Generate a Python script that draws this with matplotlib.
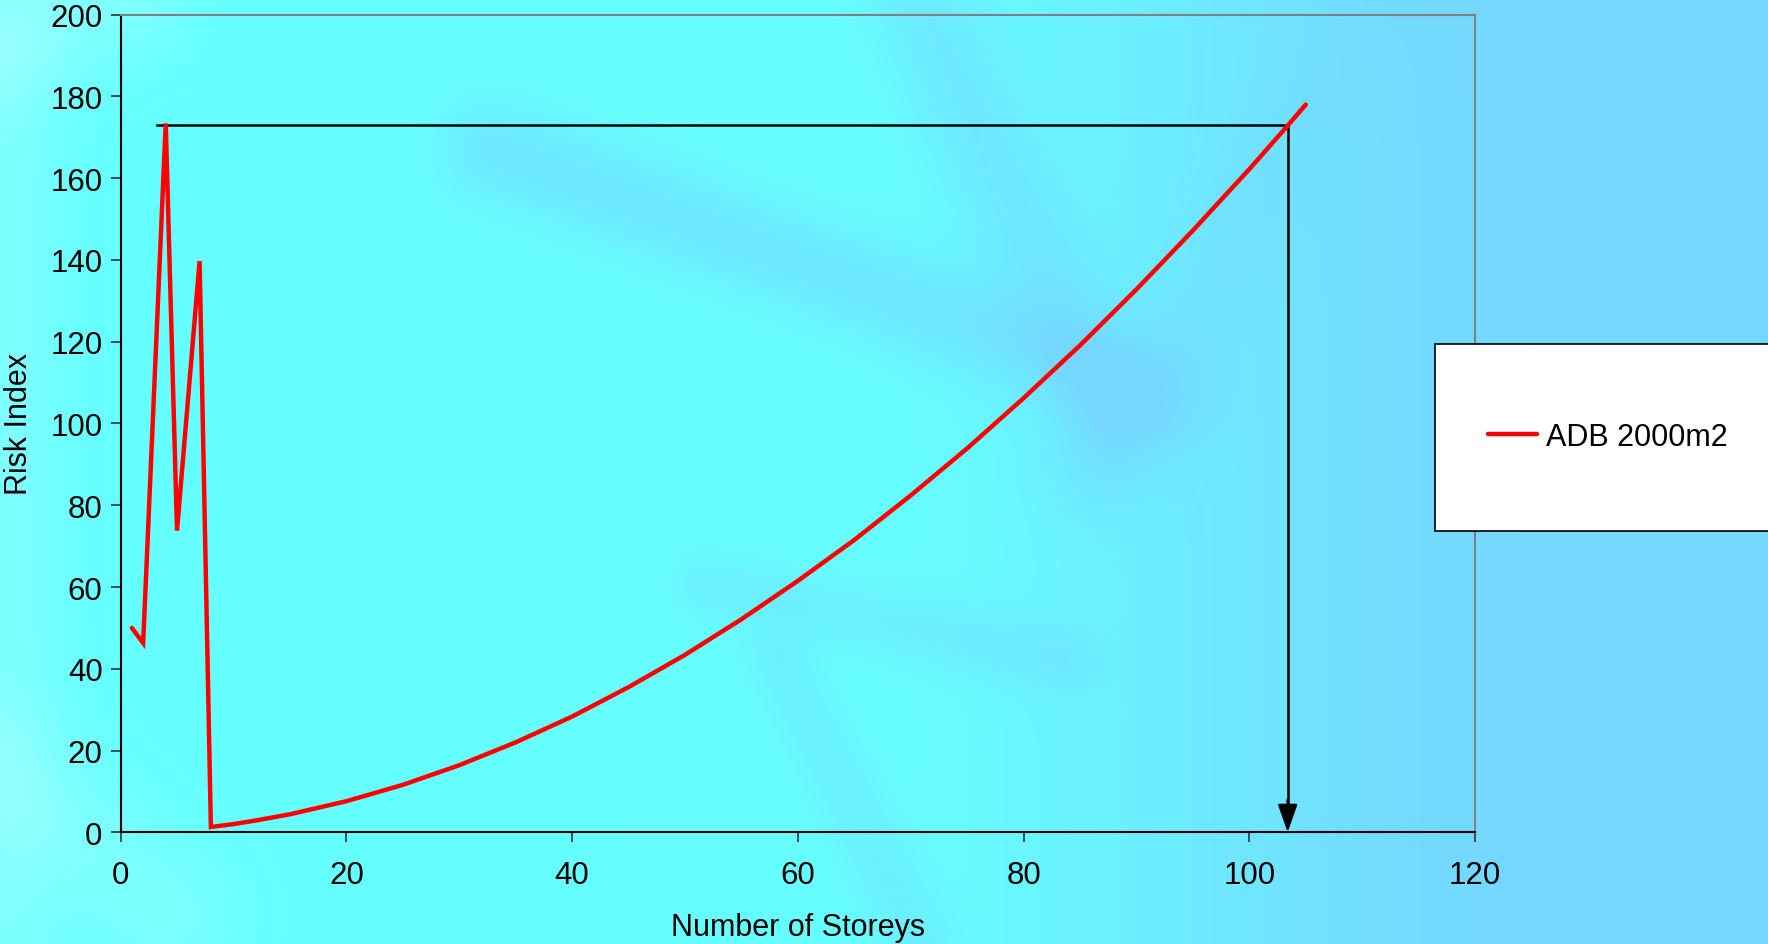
import numpy as np
import matplotlib
matplotlib.use("Agg")
import matplotlib.pyplot as plt
from matplotlib.patches import Rectangle

plt.rcParams['font.family'] = ['Liberation Sans', 'DejaVu Sans']

# risk index per number of storeys
storeys = [1, 2, 4, 5, 7, 8, 10, 12, 15, 20, 25, 30, 35, 40, 45, 50, 55, 60,
           65, 70, 75, 80, 85, 90, 95, 100, 103, 105]
risk = [50.0, 46.3, 173.4, 73.8, 139.7, 1.3, 2.0, 2.9, 4.4, 7.6, 11.6, 16.4,
        22.0, 28.3, 35.5, 43.4, 52.1, 61.5, 71.5, 82.4, 93.9, 106.2, 119.1,
        132.8, 147.2, 162.2, 171.6, 178.0]
series_name = 'ADB 2000m2'

# equivalent-risk construction line
ref_risk = 173.0
ref_start = 3.25
ref_storeys = 103.4

x_ticks = [0, 20, 40, 60, 80, 100, 120]
y_ticks = [0, 20, 40, 60, 80, 100, 120, 140, 160, 180, 200]

fig = plt.figure(figsize=(17.68, 9.45), dpi=100)

# soft cyan/blue backdrop
H, W = 240, 450
v, u = np.mgrid[0:1:H * 1j, 0:1:W * 1j]
cyan = np.array([0.40, 1.00, 1.00])
blue = np.array([0.46, 0.84, 1.00])
pale = np.array([0.60, 1.00, 1.00])
t = np.clip((u - 0.45) / 0.45, 0, 1)
t = t * t * (3 - 2 * t)
img = cyan * (1 - t[..., None]) + blue * t[..., None]


def band(x0, y0, x1, y1, width):
    dx, dy = x1 - x0, (y1 - y0) * H / W
    L = np.hypot(dx, dy)
    px, py = u - x0, (v - y0) * H / W
    s = np.clip((px * dx + py * dy) / L ** 2, 0, 1)
    d = np.hypot(px - s * dx, py - s * dy)
    return np.exp(-(d / width) ** 2)


streak = (0.55 * band(0.28, 0.16, 0.66, 0.42, 0.03)
          + 0.45 * band(0.52, 0.00, 0.63, 0.45, 0.03)
          + 0.35 * band(0.40, 0.62, 0.60, 0.70, 0.02)
          + 0.35 * band(0.44, 0.70, 0.52, 1.00, 0.02)
          + 0.30 * band(0.62, 0.50, 0.78, 0.00, 0.03))
streak = np.clip(streak, 0, 1)[..., None]
img = img * (1 - streak) + blue * streak
light = (0.45 * np.exp(-((u - 0.0) / 0.035) ** 2)
         + 0.5 * band(0.0, 0.05, 0.07, 0.0, 0.035)
         + 0.45 * band(0.0, 0.82, 0.09, 0.97, 0.04))
light = np.clip(light, 0, 1)[..., None]
img = img * (1 - light) + pale * light

bg = fig.add_axes([0, 0, 1, 1], zorder=-1)
bg.imshow(img, extent=[0, 1, 0, 1], aspect='auto', interpolation='bilinear')
bg.axis('off')

ax = fig.add_axes([0.0682, 0.1182, 0.7661, 0.8652])
ax.patch.set_alpha(0)

line, = ax.plot(storeys, risk, color='#ff0000', lw=3.2, solid_capstyle='round',
                solid_joinstyle='miter', zorder=3)

ax.plot([ref_start, ref_storeys, ref_storeys], [ref_risk, ref_risk, 6],
        color='black', lw=1.8, zorder=2)
ax.annotate('', xy=(ref_storeys, 0), xytext=(ref_storeys, 8),
            arrowprops=dict(arrowstyle='-|>,head_length=1.7,head_width=0.6',
                            color='black', lw=1.8, shrinkA=0, shrinkB=0))

ax.set_xlim(0, 120)
ax.set_ylim(0, 200)
ax.set_xticks(x_ticks)
ax.set_yticks(y_ticks)
ax.tick_params(direction='out', length=7, width=1.2, color='#333333',
               labelsize=22.5)
ax.tick_params(axis='x', pad=13)
ax.tick_params(axis='y', pad=6)
ax.set_xlabel('Number of Storeys', fontsize=22, labelpad=16)
ax.set_ylabel('Risk Index', fontsize=22, labelpad=12)

for side in ['left', 'bottom']:
    ax.spines[side].set_color('black')
    ax.spines[side].set_linewidth(1.5)
for side in ['top', 'right']:
    ax.spines[side].set_color('#808080')
    ax.spines[side].set_linewidth(1.5)

fig.add_artist(Rectangle((1435 / 1768, 1 - 532 / 945), 0.25, 187 / 945,
                         transform=fig.transFigure, facecolor='white',
                         edgecolor='black', lw=1.2, zorder=4))
leg = fig.legend([line], [series_name], frameon=False, loc='center left',
                 fontsize=22, bbox_to_anchor=(1488 / 1768, 1 - 438 / 945),
                 borderpad=0, borderaxespad=0,
                 handlelength=1.6, handletextpad=0.3)
leg.set_zorder(5)

fig.savefig('out.png', dpi=100)
